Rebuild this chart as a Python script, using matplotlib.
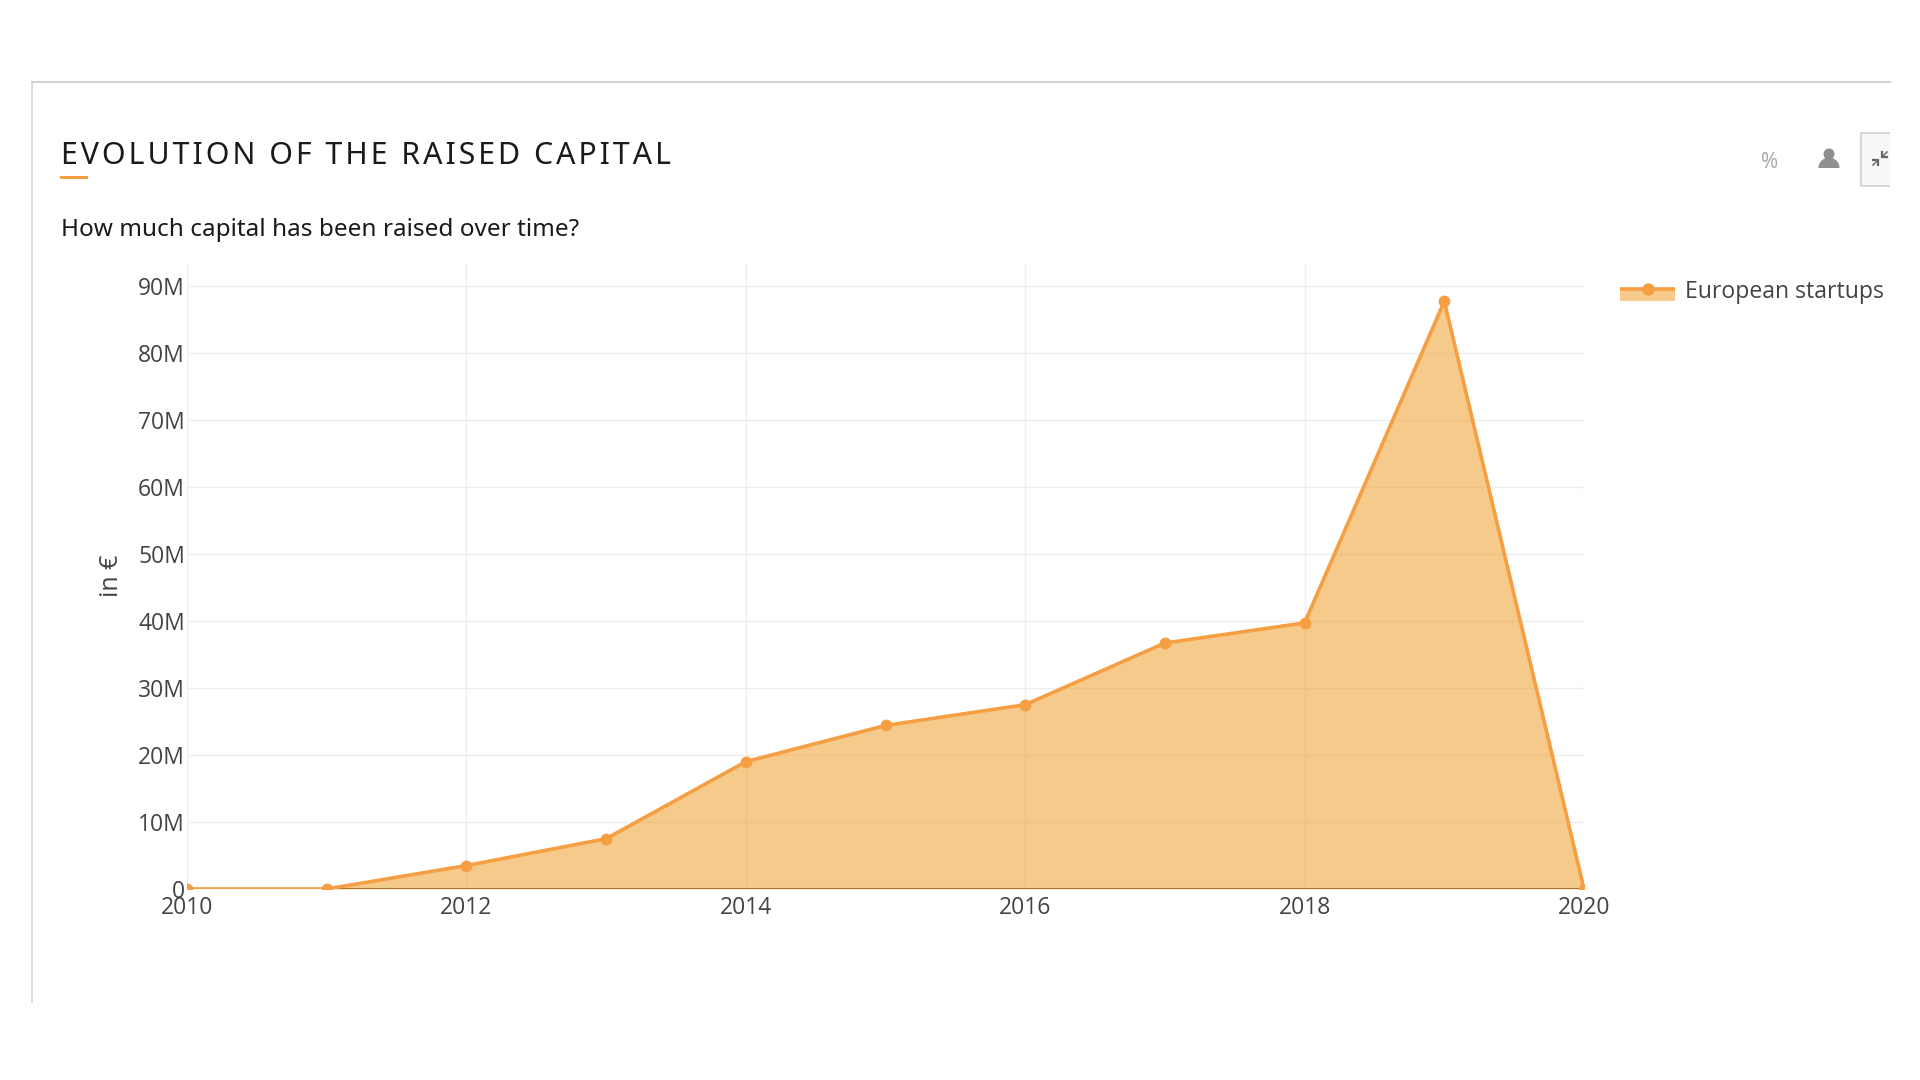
import matplotlib
matplotlib.use("Agg")
import matplotlib.pyplot as plt
from matplotlib.patches import Circle, Rectangle, Wedge
from matplotlib.ticker import FuncFormatter

# raised capital per year, in millions of euro
years = [2010, 2011, 2012, 2013, 2014, 2015, 2016, 2017, 2018, 2019, 2020]
capital = [0, 0, 3.5, 7.5, 19.0, 24.4, 27.5, 36.7, 39.7, 87.7, 0]
x_ticks = [2010, 2012, 2014, 2016, 2018, 2020]
y_ticks = [0, 10, 20, 30, 40, 50, 60, 70, 80, 90]

title = "EVOLUTION OF THE RAISED CAPITAL"
subtitle = "How much capital has been raised over time?"
series_name = "European startups"

ORANGE = "#f59f42"
FILL = "#ed9f2c"
TEXT = "#444444"
W, H = 1920, 1080

plt.rcParams["font.family"] = ["Open Sans", "DejaVu Sans"]

fig = plt.figure(figsize=(W / 100, H / 100), dpi=100, facecolor="white")

# page furniture is drawn in pixel coordinates on a full size axes
page = fig.add_axes([0, 0, 1, 1], zorder=0)
page.set_xlim(0, W)
page.set_ylim(H, 0)
page.axis("off")

page.plot([32, 32], [82, 1002], color="#d4d4d4", lw=1.2)
page.plot([32, 1890], [82, 82], color="#d4d4d4", lw=1.5)

page.text(61, 156, "\u200a".join(title), fontsize=21.8, color="#1a1a1a", va="center", weight=500,
          family=["Noto Sans", "DejaVu Sans"])
page.add_patch(Rectangle((60, 175.5), 28, 3.5, color=ORANGE, lw=0))
page.text(61, 230, subtitle, fontsize=17.5, color="#1a1a1a", va="center", weight=500,
          family=["Noto Sans", "DejaVu Sans"])

# icons top right
page.text(1770, 162, "%", fontsize=15, color="#a8a8a8", ha="center", va="center")
page.add_patch(Circle((1829, 154), 5.5, color="#8f8f8f", lw=0))
page.add_patch(Wedge((1829, 168), 10.5, 180, 360, color="#8f8f8f", lw=0))
page.add_patch(Rectangle((1860.5, 132.5), 40, 53, facecolor="#f8f8f8", edgecolor="#d0d0d0", lw=1.2))
page.add_patch(Rectangle((1890, 125), 30, 70, color="white", lw=0))
page.plot([1873, 1878], [165, 160], color="#777777", lw=1.2)
page.plot([1882, 1887], [157, 152], color="#777777", lw=1.2)
page.plot([1873, 1878, 1878], [160, 160, 165], color="#666666", lw=1.6)
page.plot([1882, 1882, 1887], [152, 157, 157], color="#666666", lw=1.6)

# legend swatch and name
page.add_patch(Rectangle((1620, 289), 55, 12, color=FILL, alpha=0.55, lw=0))
page.plot([1620, 1675], [289, 289], color=ORANGE, lw=2.6, solid_capstyle="butt")
page.plot([1648], [289], "o", color=ORANGE, ms=9, mew=0)
page.text(1685, 292, series_name, fontsize=16.6, color=TEXT, va="center")

# chart area
left, right, top, bottom = 187, 1584, 263, 889
ax = fig.add_axes([left / W, 1 - bottom / H, (right - left) / W, (bottom - top) / H], zorder=1)
ax.patch.set_alpha(0)
ax.set_xlim(2010, 2020)
ax.set_ylim(0, 93.4)

ax.set_xticks(x_ticks)
ax.set_yticks(y_ticks)
ax.yaxis.set_major_formatter(FuncFormatter(lambda v, pos: "0" if v == 0 else f"{v:.0f}M"))
ax.tick_params(axis="both", length=0, labelsize=16.5, labelcolor=TEXT)
ax.tick_params(axis="x", pad=5)
ax.tick_params(axis="y", pad=1.5)
ax.grid(True, color="#eeeeee", lw=1.0)
ax.set_axisbelow(True)
for side in ["top", "right", "left", "bottom"]:
    ax.spines[side].set_visible(False)

ax.axhline(0, color=TEXT, lw=2.2, zorder=1.5)
ax.fill_between(years, capital, 0, color=FILL, alpha=0.55, lw=0, zorder=2)
ax.plot(years, capital, "-o", color=ORANGE, lw=2.6, ms=8.5, mew=0, zorder=3)

fig.text(111 / W, 1 - 576 / H, "in €", rotation=90, fontsize=18, color=TEXT, ha="center", va="center")

fig.savefig("out.png", dpi=100)
